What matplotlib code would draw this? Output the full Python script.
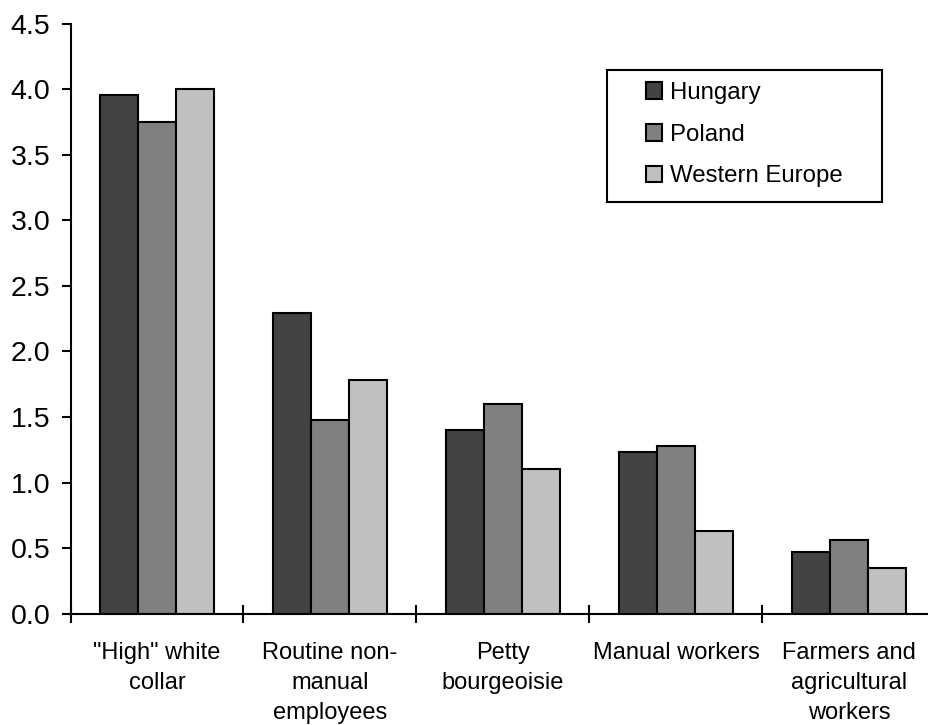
import numpy as np
import matplotlib
matplotlib.use("Agg")
import matplotlib.pyplot as plt
from matplotlib.patches import Rectangle

plt.rcParams['font.family'] = ['Liberation Sans', 'DejaVu Sans']

categories = ['"High" white\ncollar', 'Routine non-\nmanual\nemployees',
              'Petty\nbourgeoisie', 'Manual workers',
              'Farmers and\nagricultural\nworkers']
series_names = ['Hungary', 'Poland', 'Western Europe']
hungary = [3.96, 2.29, 1.40, 1.23, 0.47]
poland = [3.75, 1.48, 1.60, 1.28, 0.56]
western_europe = [4.00, 1.78, 1.10, 0.63, 0.35]
y_ticks = [0.0, 0.5, 1.0, 1.5, 2.0, 2.5, 3.0, 3.5, 4.0, 4.5]

colors = ['#434343', '#808080', '#c0c0c0']
W, H = 929, 725

fig = plt.figure(figsize=(W / 100, H / 100), dpi=100)
ax = fig.add_axes([70.5 / W, 111.3 / H, 865 / W, 590 / H])

x = np.arange(len(categories)) + 0.5
bw = 0.22
for i, (vals, name) in enumerate(zip([hungary, poland, western_europe], series_names)):
    ax.bar(x + (i - 1) * bw, vals, width=bw, color=colors[i],
           edgecolor='black', linewidth=1.5, label=name, zorder=3)

ax.set_xlim(0, len(categories))
ax.set_ylim(0, 4.5)
ax.set_yticks(y_ticks)
ax.set_yticklabels([f'{t:.1f}' for t in y_ticks], fontsize=20.5)

ax.set_xticks(np.arange(len(categories) + 1))
ax.set_xticklabels([])
ax.set_xticks(x, minor=True)
ax.set_xticklabels(categories, minor=True, fontsize=17, linespacing=1.47,
                   va='top', ha='center')
ax.tick_params(axis='x', which='major', direction='inout', length=13, width=1.5)
ax.tick_params(axis='x', which='minor', length=0, pad=20.5)
ax.tick_params(axis='y', direction='out', length=6.5, width=1.5, pad=8)

for s in ['top', 'right']:
    ax.spines[s].set_visible(False)
for s in ['left', 'bottom']:
    ax.spines[s].set_linewidth(1.5)
ax.spines['bottom'].set_zorder(4)

leg = ax.legend(loc='upper left', bbox_to_anchor=(646 / W, 1 - 82 / H),
                bbox_transform=fig.transFigure, frameon=False, fontsize=17.3,
                borderpad=0, handlelength=0.68, handleheight=0.68,
                handletextpad=0.3, labelspacing=0.82, borderaxespad=0)
fig.add_artist(Rectangle((607 / W, 1 - 202 / H), 275 / W, 132 / H,
                         transform=fig.transFigure, fill=False,
                         edgecolor='black', linewidth=1.5))

fig.savefig('out.png', dpi=100)
